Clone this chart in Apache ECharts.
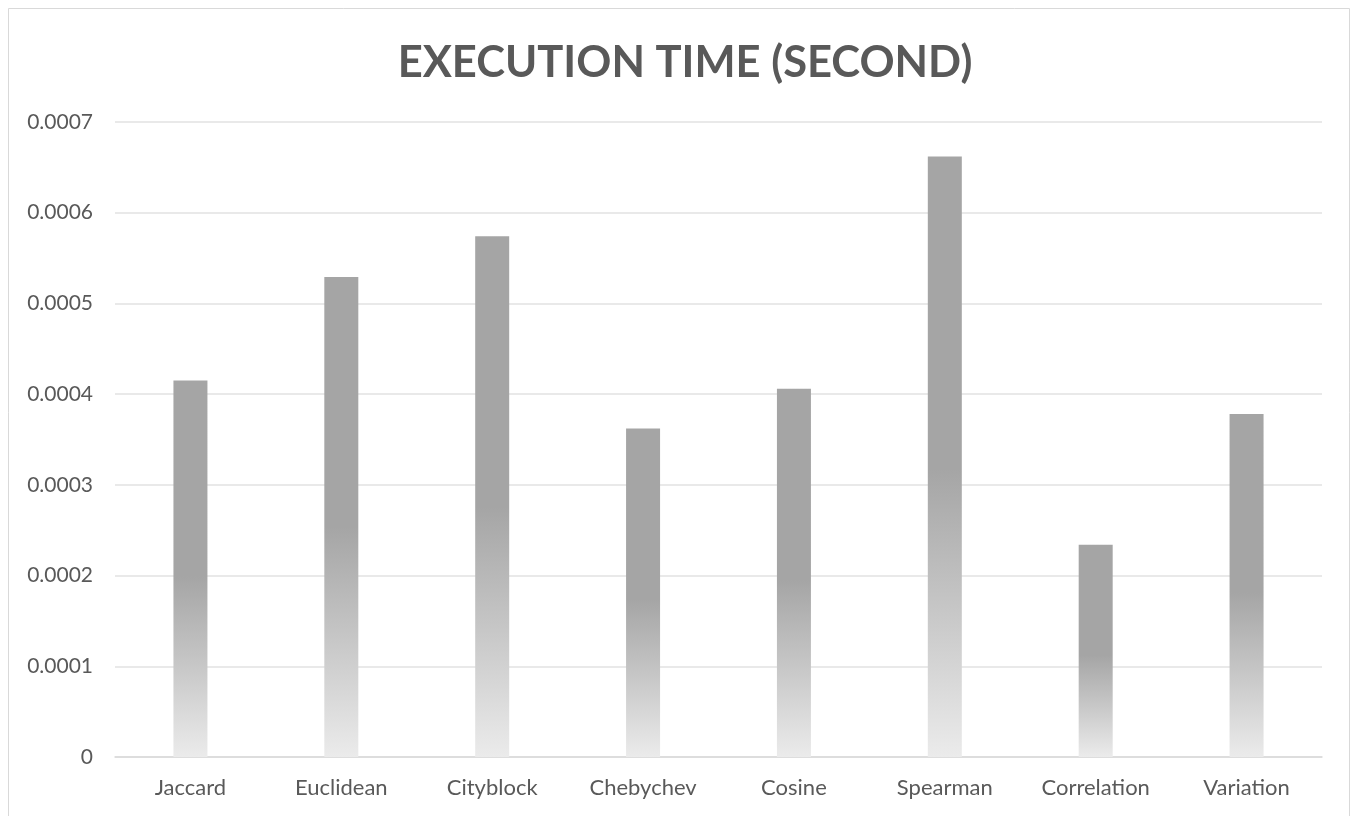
<!DOCTYPE html>
<html>
<head>
<meta charset="utf-8">
<script src="https://cdn.jsdelivr.net/npm/echarts@6/dist/echarts.min.js"></script>
<style>
html,body{margin:0;padding:0;background:#fff;}
#chart{width:1351px;height:816px;}
</style>
</head>
<body>
<div id="chart"></div>
<script>
const categories = ['Jaccard','Euclidean','Cityblock','Chebychev','Cosine','Spearman','Correlation','Variation'];
const values = [0.000415, 0.000529, 0.000574, 0.000362, 0.000406, 0.000662, 0.000234, 0.000378];
const titleText = 'EXECUTION TIME (SECOND)';
const yTicks = {min: 0, max: 0.0007, interval: 0.0001};

const chart = echarts.init(document.getElementById('chart'), null, {renderer: 'canvas'});
const font = 'Lato, "Open Sans", sans-serif';
chart.setOption({
  animation: false,
  backgroundColor: '#fff',
  graphic: [{
    type: 'rect',
    shape: {x: 8.5, y: 8.5, width: 1341, height: 830},
    style: {fill: 'none', stroke: '#d9d9d9', lineWidth: 1},
    silent: true
  }],
  title: {
    text: titleText,
    left: 680,
    textAlign: 'center',
    top: 36,
    textStyle: {fontFamily: font, fontSize: 43.5, fontWeight: 'bold', color: '#595959'}
  },
  grid: {left: 115, right: 29, top: 122, bottom: 59, containLabel: false},
  xAxis: {
    type: 'category',
    data: categories,
    axisLine: {lineStyle: {color: '#d9d9d9', width: 1.5}},
    axisTick: {show: false},
    axisLabel: {fontFamily: font, fontSize: 22, color: '#595959', margin: 20}
  },
  yAxis: {
    type: 'value',
    min: yTicks.min, max: yTicks.max, interval: yTicks.interval,
    axisLine: {show: false},
    axisTick: {show: false},
    splitLine: {lineStyle: {color: '#e2e2e2', width: 1.5}},
    axisLabel: {
      fontFamily: font, fontSize: 21, color: '#595959', margin: 22,
      formatter: v => v === 0 ? '0' : v.toFixed(4)
    }
  },
  series: [{
    type: 'bar',
    data: values,
    barWidth: 34,
    itemStyle: {
      color: new echarts.graphic.LinearGradient(0, 0, 0, 1, [
        {offset: 0, color: '#a5a5a5'},
        {offset: 0.52, color: '#a5a5a5'},
        {offset: 0.75, color: '#c6c6c6'},
        {offset: 1, color: '#ebebeb'}
      ])
    }
  }]
});
</script>
</body>
</html>
